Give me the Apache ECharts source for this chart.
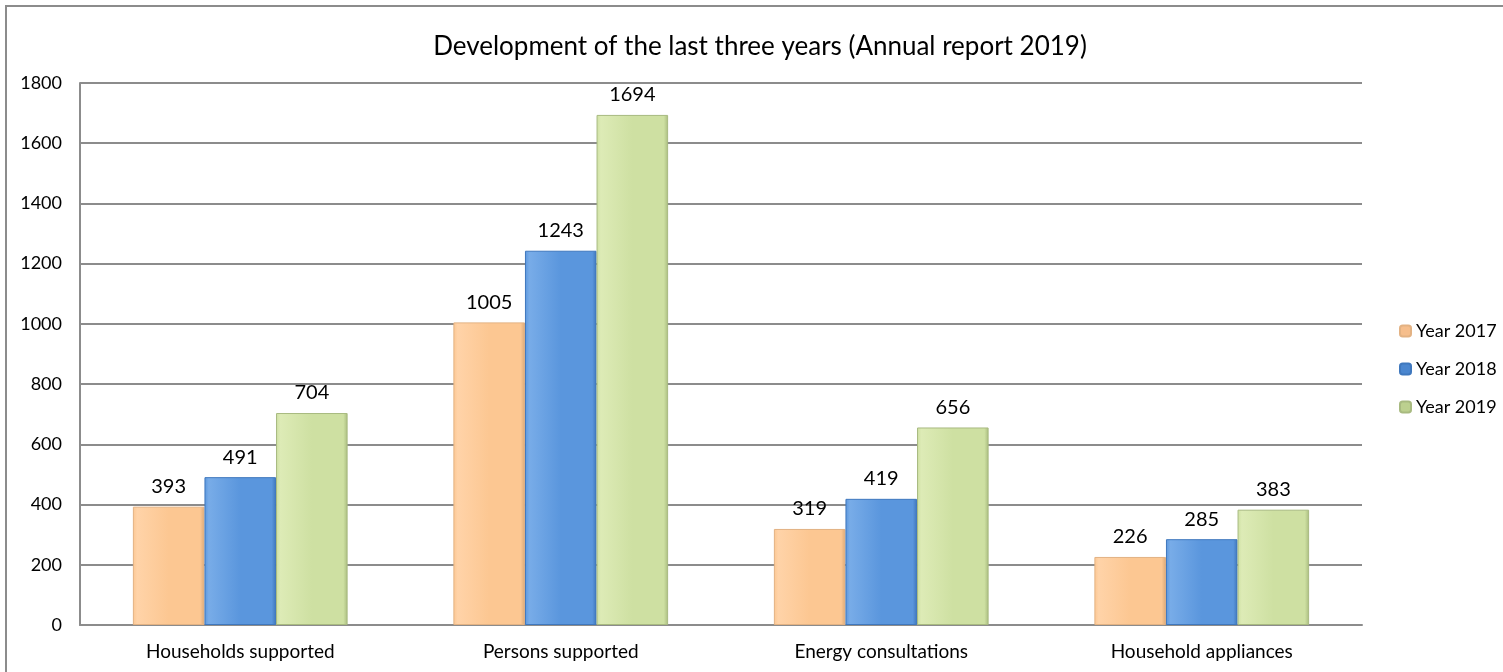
<!DOCTYPE html>
<html><head><meta charset="utf-8">
<script src="https://cdn.jsdelivr.net/npm/echarts@6/dist/echarts.min.js"></script>
<style>html,body{margin:0;padding:0;background:#fff}#c{width:1503px;height:672px}
#frame{position:absolute;left:5px;top:5px;width:1510px;height:680px;border:2px solid #8c8c8c;box-sizing:border-box;pointer-events:none}</style>
</head><body><div id="c"></div><div id="frame"></div>
<script>
const categories = ['Households supported', 'Persons supported', 'Energy consultations', 'Household appliances'];
const year2017 = [393, 1005, 319, 226];
const year2018 = [491, 1243, 419, 285];
const year2019 = [704, 1694, 656, 383];
const seriesNames = ['Year 2017', 'Year 2018', 'Year 2019'];
const yTicks = {min: 0, max: 1800, interval: 200};

const font = 'Lato, sans-serif';
function grad(light, mid, dark) {
  return new echarts.graphic.LinearGradient(0, 0, 1, 0, [
    {offset: 0, color: mid}, {offset: 0.06, color: light}, {offset: 0.5, color: mid}, {offset: 0.94, color: mid}, {offset: 1, color: dark}
  ]);
}
const styles = [
  {color: grad('#FFD3A8', '#FCC792', '#D9A878'), borderColor: '#E3B283', legend: '#F6BE8C'},
  {color: grad('#78ACE8', '#5A96DD', '#3F76BA'), borderColor: '#3F78BE', legend: '#4A86CF'},
  {color: grad('#DDEBB6', '#CEE0A2', '#A9BC7E'), borderColor: '#A8BA80', legend: '#BCD08F'}
];
const data = [year2017, year2018, year2019];
const chart = echarts.init(document.getElementById('c'));
chart.setOption({
  animation: false,
  title: {text: 'Development of the last three years (Annual report 2019)', left: 755, textAlign: 'center', top: 29,
    textStyle: {fontFamily: font, fontSize: 26, fontWeight: 'normal', color: '#000'}},
  legend: {orient: 'vertical', left: 1394, top: 317, itemWidth: 11, itemHeight: 11, itemGap: 20,
    textStyle: {fontFamily: font, fontSize: 18, color: '#000'},
    data: seriesNames.map((n, i) => ({name: n, itemStyle: {color: styles[i].legend}}))},
  grid: {left: 80, right: 141, top: 83, bottom: 47},
  xAxis: {type: 'category', data: categories,
    axisLine: {lineStyle: {color: '#8c8c8c', width: 2}}, axisTick: {show: false},
    axisLabel: {fontFamily: font, fontSize: 19, color: '#000', margin: 17}},
  yAxis: {type: 'value', min: yTicks.min, max: yTicks.max, interval: yTicks.interval,
    axisLine: {show: true, lineStyle: {color: '#8c8c8c', width: 2}}, axisTick: {show: false},
    splitLine: {lineStyle: {color: '#8c8c8c', width: 2}},
    axisLabel: {fontFamily: font, fontSize: 18, color: '#000', margin: 18, formatter: v => String(v)}},
  series: seriesNames.map((n, i) => ({
    name: n, type: 'bar', data: data[i], barGap: '0%', barCategoryGap: '33%',
    itemStyle: {color: styles[i].color, borderColor: styles[i].borderColor, borderWidth: 1},
    label: {show: true, position: 'top', distance: 10, fontFamily: font, fontSize: 20, color: '#000'}
  }))
});
</script></body></html>
